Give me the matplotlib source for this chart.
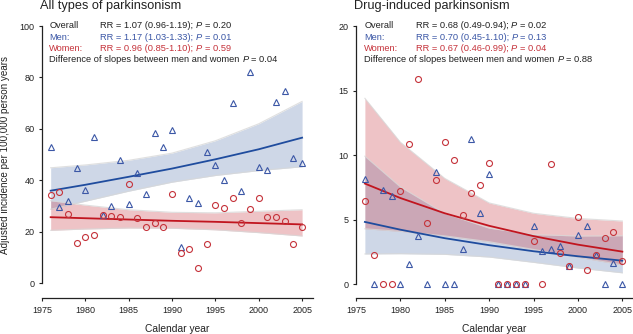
import matplotlib
matplotlib.use("Agg")
import matplotlib.pyplot as plt

plt.rcParams['font.family'] = ['Liberation Sans', 'DejaVu Sans']

# ── observed rates (per 100,000 person years) ──
years = list(range(1976, 2006))

all_men = [53.1, 29.6, 32.0, 45.0, 36.3, 56.7, 26.6, 30.1, 47.9, 30.7,
           43.0, 34.8, 58.3, 53.0, 59.7, 14.3, 33.1, 31.1, 51.0, 46.1,
           40.0, 70.2, 36.0, 82.2, 45.3, 44.2, 70.4, 74.8, 48.8, 46.8]
all_women = [34.5, 35.3, 27.0, 15.8, 17.9, 18.7, 26.7, 26.1, 25.6, 38.5,
             25.2, 21.7, 23.6, 21.7, 34.9, 11.9, 13.4, 6.1, 15.2, 30.6,
             29.3, 33.3, 23.6, 28.7, 33.3, 25.6, 25.6, 24.1, 15.2, 21.7]

drug_men = [8.14, 0, 7.34, 6.8, 0, 1.55, 3.72, 0, 8.73, 0,
            0, 2.77, 11.24, 5.5, 8.55, 0, 0, 0, 0, 4.55,
            2.58, 2.77, 3.0, 1.42, 3.85, 4.55, 2.27, 0, 1.63, 0]
drug_women = [6.46, 2.27, 0, 0, 7.2, 10.83, 15.87, 4.73, 8.09, 10.98,
              9.64, 5.35, 7.05, 7.67, 9.4, 0, 0, 0, 0, 3.33,
              0, 9.28, 2.46, 1.42, 5.22, 1.14, 2.27, 3.59, 4.06, 1.81]

# ── fitted trends with 95% CI ──
fit_years = [1976, 1980, 1985, 1990, 1995, 2000, 2005]

all_men_fit = [36.0, 38.3, 41.4, 44.6, 48.2, 52.1, 56.6]
all_men_lo = [28.8, 31.9, 35.8, 39.3, 41.9, 43.8, 45.3]
all_men_hi = [44.9, 46.0, 47.8, 50.6, 55.4, 62.0, 70.7]
all_women_fit = [25.7, 25.3, 24.8, 24.3, 23.9, 23.4, 22.9]
all_women_lo = [20.6, 21.1, 21.5, 21.4, 20.8, 19.7, 18.4]
all_women_hi = [32.1, 30.4, 28.6, 27.6, 27.4, 28.0, 28.6]

drug_men_fit = [4.83, 4.23, 3.57, 3.03, 2.56, 2.17, 1.83]
drug_men_lo = [2.35, 2.37, 2.32, 2.11, 1.70, 1.26, 0.89]
drug_men_hi = [9.92, 7.54, 5.49, 4.35, 3.85, 3.74, 3.76]
drug_women_fit = [7.8, 6.68, 5.50, 4.53, 3.73, 3.07, 2.53]
drug_women_lo = [4.3, 4.1, 3.75, 3.3, 2.7, 2.1, 1.5]
drug_women_hi = [14.4, 11.0, 8.2, 6.3, 5.5, 5.1, 4.9]

# ── rate ratios per decade shown in the legend block ──
row_labels = ["Overall", "Men:", "Women:"]
all_rr = ["1.07 (0.96-1.19)", "1.17 (1.03-1.33)", "0.96 (0.85-1.10)"]
all_p = ["0.20", "0.01", "0.59"]
all_diff_p = "0.04"
drug_rr = ["0.68 (0.49-0.94)", "0.70 (0.45-1.10)", "0.67 (0.46-0.99)"]
drug_p = ["0.02", "0.13", "0.04"]
drug_diff_p = "0.88"

BLUE_PT = '#3b57a6'
RED_PT = '#c5323a'
BLUE_LN = '#1f4c9e'
RED_LN = '#c1151f'
TXT = '#222222'
FS = 6.7

fig = plt.figure(figsize=(6.33, 3.34), dpi=100)
W, H = 633.0, 334.0


def make_axes(x0, x1, y_top, y_bot):
    return fig.add_axes([x0 / W, 1 - y_bot / H, (x1 - x0) / W, (y_bot - y_top) / H])


def p_line(ax, x, y, first, pval, color):
    # "<first> P = <pval>" with italic P, built from separate pieces
    t = ax.text(x, y, first, transform=ax.get_yaxis_transform(), fontsize=FS,
                color=color, va='center', ha='left')
    gap = 0.278 * FS
    t = ax.annotate("P", xy=(1, 0), xycoords=t, xytext=(gap, 0),
                    textcoords='offset points', fontsize=FS, color=color,
                    fontstyle='italic', va='bottom', ha='left')
    ax.annotate("= " + pval, xy=(1, 0), xycoords=t, xytext=(gap, 0),
                textcoords='offset points', fontsize=FS, color=color,
                va='bottom', ha='left')


def draw_panel(ax, men, women, m_fit, m_lo, m_hi, w_fit, w_lo, w_hi,
               ymax, ystep, ybot, rr, pv, diff_p, title, x_lab):
    ax.fill_between(fit_years, m_lo, m_hi, color=(0.24, 0.39, 0.63), alpha=0.25,
                    linewidth=0, zorder=1)
    ax.fill_between(fit_years, w_lo, w_hi, color=(0.78, 0.23, 0.27), alpha=0.30,
                    linewidth=0, zorder=1.1)
    for arr in (m_lo, m_hi, w_lo, w_hi):
        ax.plot(fit_years, arr, color='#d8d8d8', lw=0.8, zorder=1.2, alpha=0.8)
    ax.plot(fit_years, m_fit, color=BLUE_LN, lw=1.3, zorder=2)
    ax.plot(fit_years, w_fit, color=RED_LN, lw=1.3, zorder=2.1)
    ax.plot(years, men, linestyle='none', marker='^', ms=4.3, mfc='none',
            mec=BLUE_PT, mew=0.8, zorder=3)
    ax.plot(years, women, linestyle='none', marker='o', ms=4.3, mfc='none',
            mec=RED_PT, mew=0.8, zorder=3)

    ax.set_xlim(1975, 2006.2)
    ax.set_ylim(ybot, ymax)
    ax.set_xticks(range(1975, 2006, 5))
    ax.set_yticks(range(0, ymax + 1, ystep))
    ax.spines['top'].set_visible(False)
    ax.spines['right'].set_visible(False)
    ax.spines['left'].set_bounds(0, ymax)
    for s in ('left', 'bottom'):
        ax.spines[s].set_linewidth(0.9)
        ax.spines[s].set_color(TXT)
    ax.tick_params(labelsize=6.5, length=2.5, width=0.8, pad=3, colors=TXT)
    ax.set_xlabel("Calendar year", fontsize=7.4, color=TXT, labelpad=7)

    step = 11.3 / 272 * (ymax - ybot)
    colors = [TXT, BLUE_PT, RED_PT]
    for i, lab in enumerate(row_labels):
        ty = ymax - i * step
        ax.text(x_lab, ty, lab, transform=ax.get_yaxis_transform(), fontsize=FS,
                color=colors[i], va='center', ha='left')
        p_line(ax, 0.215, ty, "RR = " + rr[i] + ";", pv[i], colors[i])
    p_line(ax, x_lab, ymax - 3 * step, "Difference of slopes between men and women",
           diff_p, TXT)
    ax.set_title(title, fontsize=9.2, loc='left', x=-0.008, pad=12, color=TXT)


ax1 = make_axes(42, 312.5, 26, 298)
draw_panel(ax1, all_men, all_women, all_men_fit, all_men_lo, all_men_hi,
           all_women_fit, all_women_lo, all_women_hi,
           100, 20, -5.7, all_rr, all_p, all_diff_p, "All types of parkinsonism", 0.027)

ax2 = make_axes(356, 633, 26, 298)
draw_panel(ax2, drug_men, drug_women, drug_men_fit, drug_men_lo, drug_men_hi,
           drug_women_fit, drug_women_lo, drug_women_hi,
           20, 5, -1.06, drug_rr, drug_p, drug_diff_p, "Drug-induced parkinsonism", 0.03)

fig.text(5 / W, 1 - 155 / H, "Adjusted incidence per 100,000 person years",
         rotation=90, fontsize=7.1, color=TXT, ha='center', va='center')

fig.savefig("out.png", dpi=100)
